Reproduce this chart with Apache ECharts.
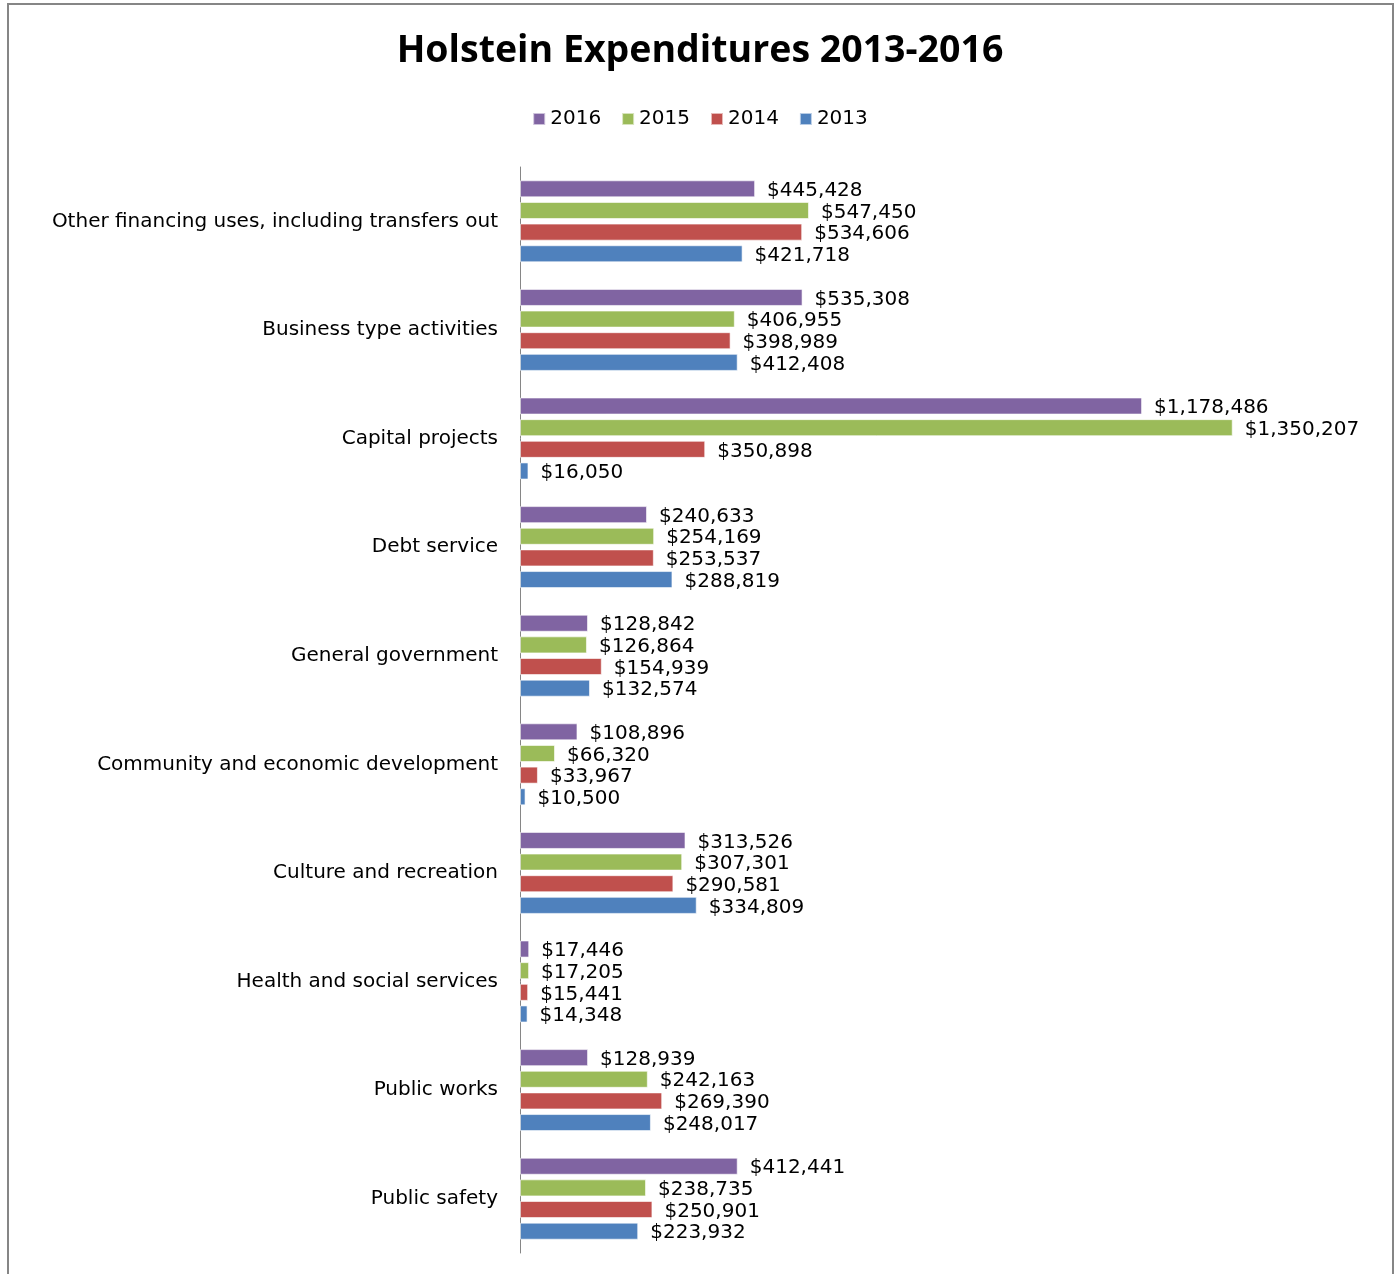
<!DOCTYPE html>
<html>
<head>
<meta charset="utf-8">
<title>Holstein Expenditures 2013-2016</title>
<script src="https://cdn.jsdelivr.net/npm/echarts@6/dist/echarts.min.js"></script>
<style>
  html, body { margin: 0; padding: 0; background: #ffffff; }
  #chart { width: 1400px; height: 1274px; }
</style>
</head>
<body>
<div id="chart"></div>
<script>
// Expenditure categories, listed top to bottom
const categories = [
  'Other financing uses, including transfers out',
  'Business type activities',
  'Capital projects',
  'Debt service',
  'General government',
  'Community and economic development',
  'Culture and recreation',
  'Health and social services',
  'Public works',
  'Public safety'
];

const years = ['2016', '2015', '2014', '2013'];

const values2016 = [445428, 535308, 1178486, 240633, 128842, 108896, 313526, 17446, 128939, 412441];
const values2015 = [547450, 406955, 1350207, 254169, 126864, 66320, 307301, 17205, 242163, 238735];
const values2014 = [534606, 398989, 350898, 253537, 154939, 33967, 290581, 15441, 269390, 250901];
const values2013 = [421718, 412408, 16050, 288819, 132574, 10500, 334809, 14348, 248017, 223932];

const yearColors = ['#8064A2', '#9BBB59', '#C0504D', '#4F81BD'];
const yearValues = [values2016, values2015, values2014, values2013];

const textFont = 'DejaVu Sans';

const fmtMoney = v => '$' + Number(v).toLocaleString('en-US');

const series = years.map((yr, i) => ({
  name: yr,
  type: 'bar',
  data: yearValues[i],
  barGap: '27%',
  barCategoryGap: '24.5%',
  itemStyle: { color: yearColors[i], borderColor: 'rgba(255,255,255,0.6)', borderWidth: 1 },
  label: {
    show: true,
    position: 'right',
    distance: 12,
    offset: [0, 2],
    formatter: p => fmtMoney(p.value),
    color: '#000000',
    fontFamily: textFont,
    fontSize: 20
  }
}));

const chart = echarts.init(document.getElementById('chart'), null, { renderer: 'canvas' });
chart.setOption({
  backgroundColor: '#ffffff',
  animation: false,
  title: {
    text: 'Holstein Expenditures 2013-2016',
    left: 'center',
    top: 27,
    textStyle: { fontFamily: 'Open Sans', fontWeight: 'bold', fontSize: 37.5, color: '#000000' }
  },
  legend: {
    data: years,
    top: 104,
    left: 'center',
    itemWidth: 12,
    itemHeight: 12,
    itemGap: 20,
    icon: 'rect',
    textStyle: { fontFamily: textFont, fontSize: 20, color: '#000000' }
  },
  grid: { left: 520, top: 167, width: 739, height: 1086, containLabel: false },
  xAxis: {
    type: 'value',
    min: 0,
    max: 1400000,
    show: false
  },
  yAxis: {
    type: 'category',
    data: categories,
    inverse: true,
    axisLine: { show: true, lineStyle: { color: '#868686', width: 1 } },
    axisTick: { show: false },
    axisLabel: { fontFamily: textFont, fontSize: 20, color: '#000000', margin: 22 }
  },
  graphic: [{
    type: 'rect',
    shape: { x: 8, y: 4, width: 1385, height: 1290 },
    style: { fill: null, stroke: '#868686', lineWidth: 2 },
    silent: true
  }],
  series: series
});
</script>
</body>
</html>
